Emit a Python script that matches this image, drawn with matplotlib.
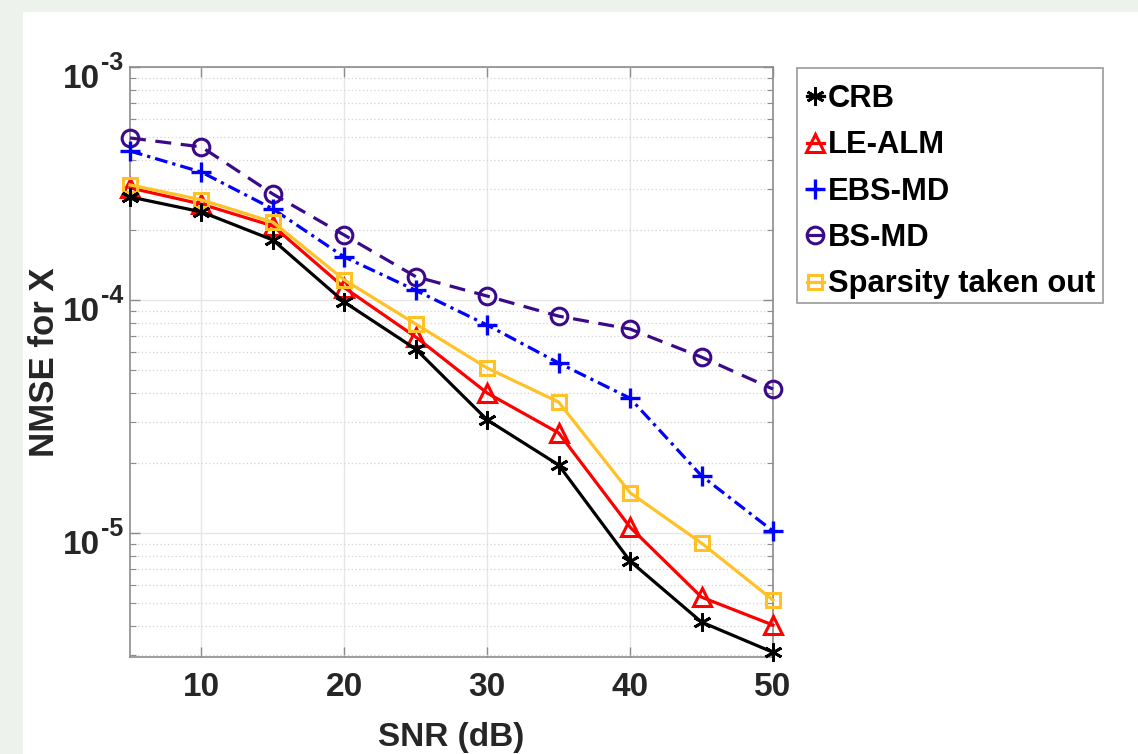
import numpy as np
import matplotlib
matplotlib.use("Agg")
import matplotlib.pyplot as plt
from matplotlib.patches import Rectangle
from matplotlib.ticker import FixedLocator, LogLocator, NullFormatter
from matplotlib import font_manager
from matplotlib.font_manager import FontProperties

snr = [5, 10, 15, 20, 25, 30, 35, 40, 45, 50]
crb = [2.77e-4, 2.39e-4, 1.81e-4, 9.8e-5, 6.16e-5, 3.06e-5, 1.96e-5, 7.58e-6, 4.15e-6, 3.08e-6]
le_alm = [3.03e-4, 2.58e-4, 2.08e-4, 1.13e-4, 6.94e-5, 3.99e-5, 2.69e-5, 1.06e-5, 5.31e-6, 4.03e-6]
ebs_md = [4.36e-4, 3.54e-4, 2.46e-4, 1.53e-4, 1.10e-4, 7.81e-5, 5.37e-5, 3.79e-5, 1.76e-5, 1.02e-5]
bs_md = [4.96e-4, 4.54e-4, 2.85e-4, 1.90e-4, 1.26e-4, 1.04e-4, 8.53e-5, 7.51e-5, 5.69e-5, 4.15e-5]
sparsity = [3.12e-4, 2.69e-4, 2.16e-4, 1.22e-4, 7.89e-5, 5.11e-5, 3.65e-5, 1.49e-5, 9.06e-6, 5.16e-6]
labels = ["CRB", "LE-ALM", "EBS-MD", "BS-MD", "Sparsity taken out"]
xticks = [10, 20, 30, 40, 50]
yticks = [1e-5, 1e-4, 1e-3]
yexps = ["-5", "-4", "-3"]

try:
    font_manager.findfont(FontProperties(family='Liberation Sans Narrow', weight='bold'),
                          fallback_to_default=False)
    NARROW = ['Liberation Sans Narrow']
    tick_fs, xlab_fs = 27, 27
except Exception:
    NARROW = ['Liberation Sans']
    tick_fs, xlab_fs = 24, 24
NORMAL = ['Liberation Sans']

W, H = 1138, 754
PT = 0.72  # points per pixel at dpi 100
fig = plt.figure(figsize=(W / 100, H / 100), dpi=100)
fig.patch.set_facecolor('#edf2ed')
fig.add_artist(Rectangle((23 / W, 0), 1 - 23 / W, 1 - 12 / H, transform=fig.transFigure,
                         facecolor='white', edgecolor='none', zorder=-5))

ax_left, ax_right, ax_top, ax_bot = 130, 773, 67, 657
ax = fig.add_axes([ax_left / W, 1 - ax_bot / H, (ax_right - ax_left) / W, (ax_bot - ax_top) / H])
ax.set_yscale('log')
ax.set_xlim(5, 50)
ax.set_ylim(2.94e-6, 1e-3)

asterisk = (6, 2, 0)
lw = 2.3
common = dict(lw=lw, clip_on=False)
ax.plot(snr, crb, color='black', marker=asterisk, ms=13, mew=2.0, label=labels[0], zorder=6, **common)
ax.plot(snr, le_alm, color='#ff0000', marker='^', ms=13, mfc='none', mew=2.2, label=labels[1], zorder=5, **common)
ax.plot(snr, ebs_md, color='#0000ff', ls=(0, (4, 1.6, 1, 1.6)), marker='+', ms=15, mew=2.4, label=labels[2], zorder=4, **common)
ax.plot(snr, bs_md, color='#3a0a8a', ls=(0, (5, 3)), marker='o', ms=12, mfc='none', mew=2.2, label=labels[3], zorder=3, **common)
ax.plot(snr, sparsity, color='#ffc125', marker='s', ms=10, mfc='none', mew=2.2, label=labels[4], zorder=5, **common)

ax.xaxis.set_major_locator(FixedLocator(xticks))
ax.yaxis.set_major_locator(FixedLocator(yticks))
ax.yaxis.set_major_formatter(NullFormatter())
ax.yaxis.set_minor_locator(LogLocator(base=10, subs=np.arange(2, 10)))
ax.yaxis.set_minor_formatter(NullFormatter())

ax.grid(True, which='major', color='#e6e6e6', lw=1.0, ls='-')
ax.grid(True, which='minor', axis='y', color='#d4d4d4', lw=0.9, ls=(0, (1, 2)))
ax.set_axisbelow(True)

for s in ax.spines.values():
    s.set_color('#8c8c8c')
    s.set_linewidth(1.2)
ax.tick_params(which='both', direction='in', top=True, right=True, color='#8c8c8c')
ax.tick_params(which='major', length=7, width=1.0)
ax.tick_params(which='minor', length=4, width=0.8)
ax.tick_params(axis='x', which='minor', bottom=False, top=False)
ax.tick_params(axis='x', pad=11)

for t in ax.get_xticklabels():
    t.set_fontfamily(NARROW)
    t.set_fontweight('bold')
    t.set_fontsize(tick_fs)
    t.set_color('#262626')

# y tick labels as "10" with raised exponent
ytrans = ax.get_yaxis_transform()
for v, e in zip(yticks, yexps):
    ax.annotate('10', xy=(0, v), xycoords=ytrans, xytext=(-30 * PT, -21 * PT), textcoords='offset points',
                ha='right', va='baseline', fontsize=tick_fs, fontweight='bold', family=NARROW,
                color='#262626', annotation_clip=False)
    ax.annotate(e, xy=(0, v), xycoords=ytrans, xytext=(-29.5 * PT, -3 * PT), textcoords='offset points',
                ha='left', va='baseline', fontsize=18, fontweight='bold', family=NARROW,
                color='#262626', annotation_clip=False)

ax.set_xlabel('SNR (dB)', fontsize=xlab_fs, fontweight='bold', color='#262626', family=NARROW)
ax.xaxis.label.set_va('baseline')
ax.xaxis.set_label_coords(0.5, (ax_bot - 746) / (ax_bot - ax_top))

ax.set_ylabel('NMSE for X', fontsize=25, fontweight='bold', color='#262626', family=NORMAL)
ax.yaxis.label.set_va('center')
ax.yaxis.set_label_coords((44 - ax_left) / (ax_right - ax_left), (ax_bot - 362) / (ax_bot - ax_top))

leg = ax.legend(loc='upper left', bbox_to_anchor=(794 / W, 1 - 71 / H), bbox_transform=fig.transFigure,
                borderaxespad=0, frameon=False, handlelength=0.55, handletextpad=0.12,
                labelspacing=0.53, borderpad=0.42,
                prop={'family': NORMAL, 'weight': 'bold', 'size': 22.2})
fig.add_artist(Rectangle((797 / W, 1 - 303 / H), (1103 - 797) / W, (303 - 68) / H,
                         transform=fig.transFigure, facecolor='white', edgecolor='#9a9a9a',
                         lw=1.2, zorder=-1))

fig.savefig('out.png', dpi=100, facecolor=fig.get_facecolor())
